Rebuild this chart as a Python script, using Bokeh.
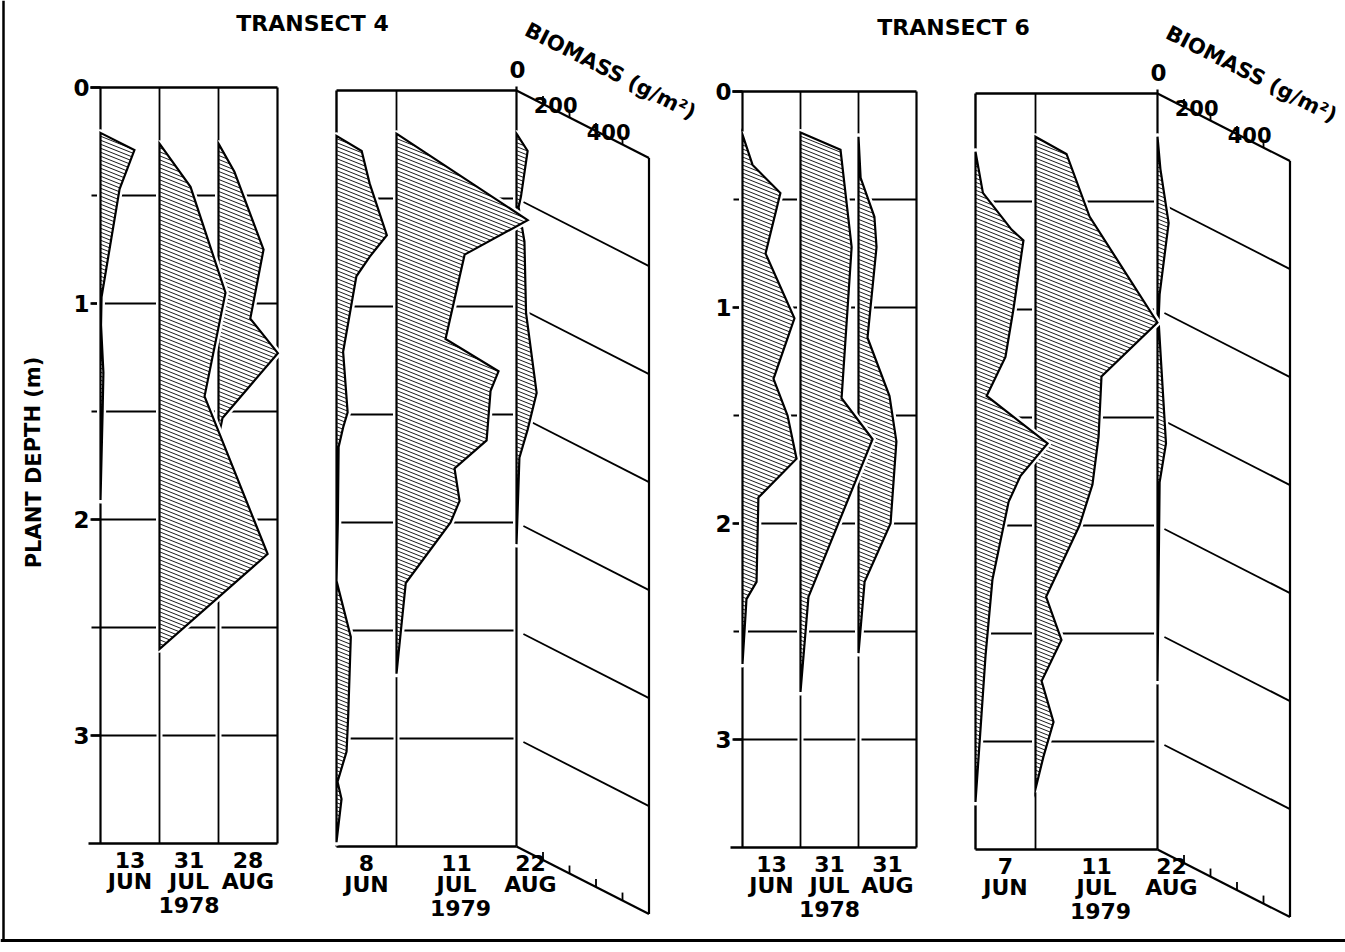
from bokeh.plotting import figure
from bokeh.models import Range1d, ImageURLTexture
from bokeh.embed import file_html
from bokeh.resources import INLINE
from bokeh.core.properties import value
import base64

# ---------------- data ----------------
TITLES = ["TRANSECT 4", "TRANSECT 6"]
YEARS = ["1978", "1979"]
MONTHS = ["JUN", "JUL", "AUG"]
T4_1978_DAYS = ["13", "31", "28"]
T4_1979_DAYS = ["8", "11", "22"]
T6_1978_DAYS = ["13", "31", "31"]
T6_1979_DAYS = ["7", "11", "22"]
DEPTH_TICKS = [0, 1, 2, 3]
GRID_DEPTHS = [0.5, 1.0, 1.5, 2.0, 2.5, 3.0]
MAX_DEPTH = 3.5
BIOMASS_TICKS = [100, 200, 300, 400]
BIOMASS_LABELS = [0, 200, 400]
PLANE_MAX = 500

# depth (m) / biomass (g/m2) profiles
T4_78_JUN_depth = [0.21, 0.29, 0.47, 0.97, 1.10, 1.32, 1.50, 1.91]
T4_78_JUN_bio = [0, 128, 72, 4, 2, 11, 8, 0]
T4_78_JUL_depth = [0.26, 0.46, 0.95, 1.43, 2.16, 2.60]
T4_78_JUL_bio = [0, 117, 249, 170, 408, 0]
T4_78_AUG_depth = [0.26, 0.39, 0.75, 1.07, 1.23, 1.53, 1.62]
T4_78_AUG_bio = [0, 60, 170, 120, 224, 15, 0]

T4_79_JUN_depth = [0.21, 0.28, 0.43, 0.67, 0.77, 0.86, 1.00, 1.21, 1.49, 1.56, 1.65, 2.00, 2.27, 2.53, 2.90, 3.06, 3.20, 3.28, 3.48]
T4_79_JUN_bio = [0, 95, 125, 190, 125, 75, 55, 25, 42, 25, 8, 5, 0, 54, 44, 38, 4, 19, 0]
T4_79_JUL_depth = [0.20, 0.60, 0.76, 1.15, 1.30, 1.39, 1.62, 1.75, 1.90, 2.00, 2.28, 2.70]
T4_79_JUL_bio = [0, 495, 257, 185, 385, 355, 340, 219, 238, 204, 35, 0]
T4_79_AUG_depth = [0.20, 0.28, 0.49, 0.54, 0.70, 1.03, 1.40, 1.57, 1.70, 2.10]
T4_79_AUG_bio = [0, 42, 17, 8, 30, 36, 76, 42, 11, 0]

T6_78_JUN_depth = [0.20, 0.34, 0.47, 0.75, 1.05, 1.33, 1.50, 1.70, 1.88, 2.27, 2.35, 2.65]
T6_78_JUN_bio = [0, 38, 143, 87, 196, 117, 170, 204, 60, 53, 15, 0]
T6_78_JUL_depth = [0.19, 0.27, 0.72, 1.42, 1.61, 2.34, 2.78]
T6_78_JUL_bio = [0, 151, 193, 155, 272, 30, 0]
T6_78_AUG_depth = [0.21, 0.40, 0.58, 0.72, 1.14, 1.41, 1.62, 2.00, 2.27, 2.60]
T6_78_AUG_bio = [0, 8, 60, 68, 34, 117, 143, 121, 23, 0]

T6_79_JUN_depth = [0.27, 0.46, 0.63, 0.68, 1.00, 1.22, 1.40, 1.62, 1.77, 1.89, 2.25, 2.60, 2.87, 3.28]
T6_79_JUN_bio = [0, 28, 136, 181, 143, 113, 42, 272, 170, 125, 64, 38, 23, 0]
T6_79_JUL_depth = [0.20, 0.28, 0.57, 1.06, 1.31, 1.59, 1.81, 2.00, 2.33, 2.53, 2.72, 2.91, 3.07, 3.22]
T6_79_JUL_bio = [0, 117, 204, 460, 249, 238, 215, 166, 40, 98, 23, 68, 30, 0]
T6_79_AUG_depth = [0.20, 0.35, 0.60, 0.93, 1.05, 1.62, 1.80, 2.72]
T6_79_AUG_bio = [0, 11, 42, 8, 4, 32, 8, 0]

# ---------------- layout (page pixels) ----------------
FONT = "DejaVu Sans"
K = 0.265      # px per g/m2 (horizontal)
PXM = 216.0    # px per metre
SLOPE = 0.51   # oblique biomass axis slope
W, H = 1345, 950

# shallow diagonal hatch tile
_svg = ('<svg xmlns="http://www.w3.org/2000/svg" width="10" height="4">'
        '<path d="M0,-4 L10,0 M0,0 L10,4 M0,4 L10,8" stroke="black" '
        'stroke-width="0.9" fill="none"/></svg>')
HATCH_URL = "data:image/svg+xml;base64," + base64.b64encode(_svg.encode()).decode()
HATCH = {"shallow": ImageURLTexture(url=HATCH_URL, repetition="repeat")}


def X(px):
    return px / K


def D(py):
    return (py - 87.0) / PXM


def M(px):
    return px / PXM


p = figure(width=W, height=H, x_range=Range1d(X(0), X(W)),
           y_range=Range1d(D(H), D(0)), output_backend="svg",
           toolbar_location=None, min_border=0, x_axis_type=None, y_axis_type=None)
p.grid.visible = False
p.outline_line_color = None
p.background_fill_color = "white"


def seg(x0, y0, x1, y1, w=2.0):
    p.segment(x0=[x0], y0=[y0], x1=[x1], y1=[y1], line_color="black", line_width=w)


def txt(x, y, s, size=22, align="center", baseline="middle", angle=0.0):
    p.text(x=[x], y=[y], text=[s], text_font=value(FONT), text_font_size=f"{size}px",
           text_font_style="bold", text_align=align, text_baseline=baseline,
           angle=angle, text_color="black")


def profiles(cols, o, profs):
    for bx, (dep, bio) in reversed(list(zip(cols, profs))):
        xs = [X(bx) + b for b in bio]
        ys = [o + d for d in dep]
        p.patch(xs, ys, fill_color="white", line_color="white", line_width=7, line_join="round")
        p.patch(xs, ys, fill_color="white", hatch_pattern="shallow", hatch_extra=HATCH,
                hatch_color="black", line_color="black", line_width=2.2,
                line_join="miter")


def date_labels(xs, o, days, year, year_x):
    for x, d, m in zip(xs, days, MONTHS):
        txt(X(x), o + MAX_DEPTH + M(16), d)
        txt(X(x), o + MAX_DEPTH + M(38), m)
    txt(X(year_x), o + MAX_DEPTH + M(61), year)


def panel_1978(cols, right, yoff, profs, days):
    o = M(yoff)
    b0, b1, b2 = cols
    for d in GRID_DEPTHS:
        for a, b in [(b0 - 9, b1 - 3), (b1 + 3, b2 - 3), (b2 + 3, right)]:
            seg(X(a), o + d, X(b), o + d, 1.8)
    for c in cols + [right]:
        seg(X(c), o, X(c), o + MAX_DEPTH, 2.2 if c in (b0, right) else 1.8)
    seg(X(b0 - 10), o, X(right), o, 2.4)
    seg(X(b0 - 12), o + MAX_DEPTH, X(right), o + MAX_DEPTH, 2.4)
    for t in DEPTH_TICKS:
        seg(X(b0 - 10), o + t, X(b0), o + t, 2.4)
        txt(X(b0 - 11), o + t, str(t), size=23, align="right")
    profiles(cols, o, profs)
    centers = [(b0 + b1) / 2, (b1 + b2) / 2, (b2 + right) / 2]
    date_labels(centers, o, days, YEARS[0], centers[1])


def panel_1979(cols, yoff, profs, days):
    o = M(yoff)
    b0, b1, b2 = cols
    xb = X(b2)

    def dd(v):
        return v * K * SLOPE / PXM

    for d in GRID_DEPTHS:
        for a, b in [(b0 + 3, b1 - 3), (b1 + 3, b2 - 3)]:
            seg(X(a), o + d, X(b), o + d, 1.8)
        v0 = 26
        seg(xb + v0, o + d + dd(v0), xb + PLANE_MAX, o + d + dd(PLANE_MAX), 1.8)
    seg(X(b0), o, X(b0), o + MAX_DEPTH, 2.4)
    seg(X(b1), o, X(b1), o + MAX_DEPTH, 1.8)
    seg(xb, o - M(4), xb, o + MAX_DEPTH, 2.2)
    seg(xb + PLANE_MAX, o + dd(PLANE_MAX), xb + PLANE_MAX, o + MAX_DEPTH + dd(PLANE_MAX), 2.2)
    seg(X(b0), o, xb, o, 2.4)
    seg(X(b0), o + MAX_DEPTH, xb, o + MAX_DEPTH, 2.4)
    for base in (0.0, MAX_DEPTH):
        seg(xb, o + base, xb + PLANE_MAX, o + base + dd(PLANE_MAX), 2.2)
        for v in BIOMASS_TICKS:
            seg(xb + v, o + base + dd(v), xb + v, o + base + dd(v) - M(8), 1.8)
    for v in BIOMASS_LABELS:
        if v == 0:
            txt(xb + X(1), o - M(21), "0", size=23)
        else:
            txt(xb + v + X(8), o + dd(v) - M(5), str(v), size=21, align="right",
                baseline="bottom")
    txt(xb + X(10), o - M(62), "BIOMASS (g/m\u00b2)", size=21, align="left",
        baseline="alphabetic", angle=-0.47)
    profiles(cols, o, profs)
    xs = [(b0 + b1) / 2, (b1 + b2) / 2, b2 + 14]
    date_labels(xs, o, days, YEARS[1], xs[1] + 4)


# frame
seg(X(3), D(0), X(3), D(940), 2.5)
seg(X(0), D(940), X(W), D(940), 3.0)

# titles
txt(X(312), D(23), TITLES[0], size=22)
txt(X(953), D(27), TITLES[1], size=22)
txt(X(33), D(462), "PLANT DEPTH (m)", size=21, angle=1.5708)

panel_1978([100, 159, 218], 277, 0,
           [(T4_78_JUN_depth, T4_78_JUN_bio), (T4_78_JUL_depth, T4_78_JUL_bio),
            (T4_78_AUG_depth, T4_78_AUG_bio)], T4_1978_DAYS)
panel_1979([336, 396, 516], 3,
           [(T4_79_JUN_depth, T4_79_JUN_bio), (T4_79_JUL_depth, T4_79_JUL_bio),
            (T4_79_AUG_depth, T4_79_AUG_bio)], T4_1979_DAYS)
panel_1978([742, 800, 858], 916, 4,
           [(T6_78_JUN_depth, T6_78_JUN_bio), (T6_78_JUL_depth, T6_78_JUL_bio),
            (T6_78_AUG_depth, T6_78_AUG_bio)], T6_1978_DAYS)
panel_1979([975, 1035, 1157], 6,
           [(T6_79_JUN_depth, T6_79_JUN_bio), (T6_79_JUL_depth, T6_79_JUL_bio),
            (T6_79_AUG_depth, T6_79_AUG_bio)], T6_1979_DAYS)

open("out.html", "w").write(file_html(p, INLINE))
